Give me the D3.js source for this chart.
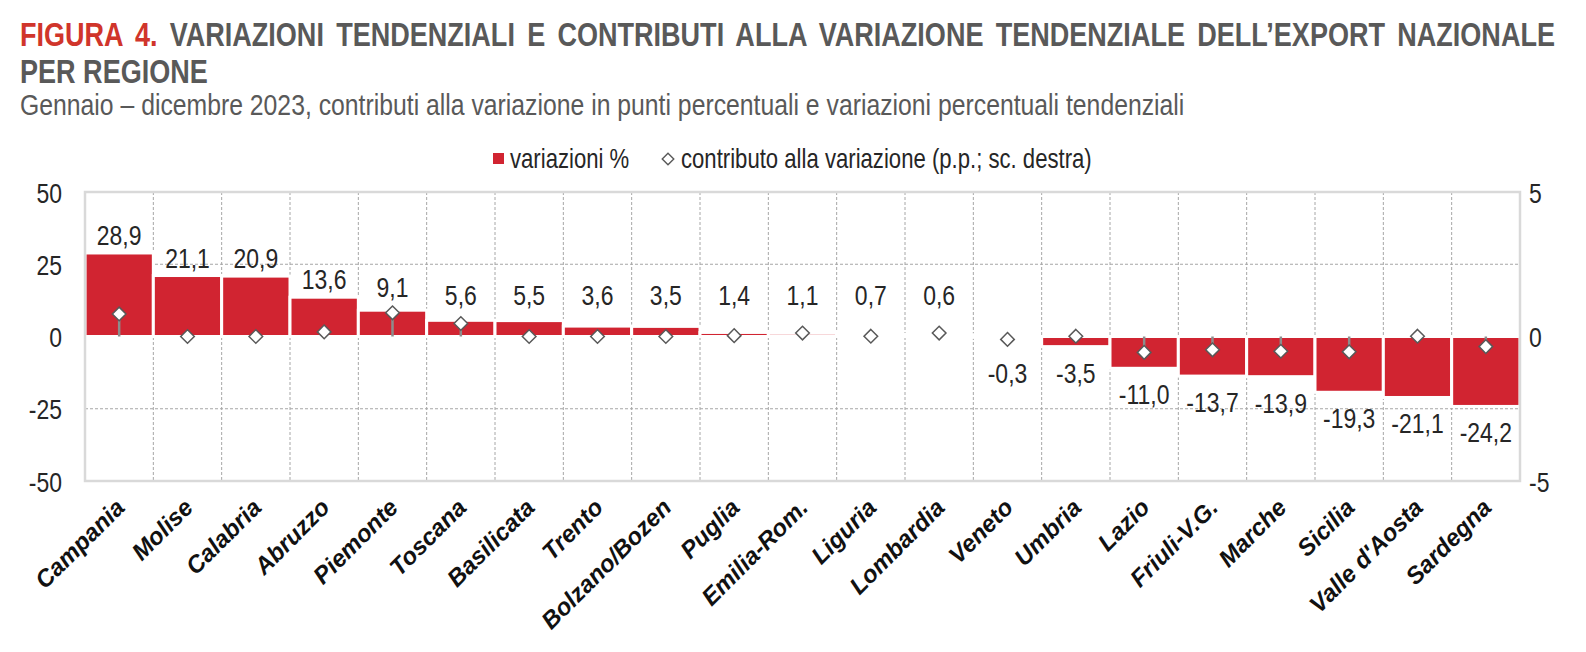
<!DOCTYPE html>
<html>
<head>
<meta charset="utf-8">
<script src="https://cdn.jsdelivr.net/npm/d3@7"></script>
<style>
  html, body { margin: 0; padding: 0; background: #fff; }
  svg { display: block; }
  svg text { font-family: "Liberation Sans", Arial, sans-serif; }
</style>
</head>
<body>
<div id="chart"></div>
<script>
// regions, sorted as in the figure
const regions = ['Campania', 'Molise', 'Calabria', 'Abruzzo', 'Piemonte', 'Toscana', 'Basilicata',
  'Trento', 'Bolzano/Bozen', 'Puglia', 'Emilia-Rom.', 'Liguria', 'Lombardia', 'Veneto', 'Umbria',
  'Lazio', 'Friuli-V.G.', 'Marche', 'Sicilia', "Valle d'Aosta", 'Sardegna']

// variazioni % (left axis)
const variazioni = [28.9, 21.1, 20.9, 13.6, 9.1, 5.6, 5.5, 3.6, 3.5, 1.4, 1.1, 0.7, 0.6, -0.3, -3.5,
  -11.0, -13.7, -13.9, -19.3, -21.1, -24.2]

// contributo alla variazione, p.p. (right axis)
const contributi = [0.78, 0.0, 0.0, 0.16, 0.82, 0.45, 0.0, 0.0, 0.0, 0.03, 0.12, 0.01, 0.12, -0.1, 0.01,
  -0.55, -0.46, -0.51, -0.53, 0.01, -0.35]

const leftTicks = [-50, -25, 0, 25, 50]
const rightTicks = [-5, 0, 5]

const data = regions.map((r, i) => ({ region: r, v: variazioni[i], c: contributi[i] }))

const W = 1586, H = 652
const plot = { left: 85, right: 1520, top: 192, bottom: 481 }
const red = '#d12431', grey = '#595959'
const SX = 0.82 // no Arial Narrow here, so squeeze Liberation Sans
const fmt = v => (v < 0 ? '-' : '') + Math.abs(v).toFixed(1).replace('.', ',')

// move x/y into a transform and squeeze horizontally
function narrow (sel) {
  sel.each(function () {
    const t = d3.select(this)
    const tx = +t.attr('x') || 0, ty = +t.attr('y') || 0
    t.attr('x', 0).attr('y', 0).attr('transform', `translate(${tx},${ty}) scale(${SX},1)`)
  })
}

const svg = d3.select('#chart').append('svg')
  .attr('width', W)
  .attr('height', H)

// titles
const t1 = svg.append('text')
  .attr('x', 20).attr('y', 46)
  .attr('font-size', 33).attr('font-weight', 'bold')
t1.append('tspan').attr('fill', '#d0352b').text('FIGURA 4.')
t1.append('tspan').attr('fill', grey)
  .text(' VARIAZIONI TENDENZIALI E CONTRIBUTI ALLA VARIAZIONE TENDENZIALE DELL\u2019EXPORT NAZIONALE')
// justify first line like the original
const natural = t1.node().getComputedTextLength()
const spaces = (t1.text().match(/ /g) || []).length
t1.attr('word-spacing', (1536 / SX - natural) / spaces)
narrow(t1)

svg.append('text')
  .attr('x', 20).attr('y', 83)
  .attr('font-size', 33).attr('font-weight', 'bold')
  .attr('fill', grey)
  .text('PER REGIONE')
  .call(narrow)

svg.append('text')
  .attr('x', 20).attr('y', 115)
  .attr('font-size', 30.2)
  .attr('fill', grey)
  .text('Gennaio \u2013 dicembre 2023, contributi alla variazione in punti percentuali e variazioni percentuali tendenziali')
  .call(narrow)

// legend
const lg = svg.append('g').attr('font-size', 27).attr('fill', '#262626')
lg.append('rect').attr('x', 493).attr('y', 153).attr('width', 11).attr('height', 11).attr('fill', red)
lg.append('text').attr('x', 510).attr('y', 168).text('variazioni %').call(narrow)
lg.append('path')
  .attr('d', d3.symbol(d3.symbolDiamond2, 85)())
  .attr('transform', 'translate(668,159)')
  .attr('fill', '#fff').attr('stroke', grey).attr('stroke-width', 1.4)
lg.append('text').attr('x', 681).attr('y', 168).text('contributo alla variazione (p.p.; sc. destra)').call(narrow)

// scales
const x = d3.scaleBand().domain(regions).range([plot.left, plot.right]).padding(0)
const y = d3.scaleLinear().domain([-50, 50]).range([plot.bottom, plot.top])
const y2 = d3.scaleLinear().domain([-5, 5]).range([plot.bottom, plot.top])

// grid
const grid = svg.append('g')
  .attr('stroke', '#a6a6a6').attr('stroke-width', 1).attr('stroke-dasharray', '3,2')
grid.selectAll('line.h')
  .data(leftTicks.filter(t => t !== 0 && Math.abs(t) !== 50))
  .join('line')
  .attr('x1', plot.left).attr('x2', plot.right)
  .attr('y1', d => y(d)).attr('y2', d => y(d))
grid.selectAll('line.v')
  .data(regions.slice(1))
  .join('line')
  .attr('x1', d => x(d)).attr('x2', d => x(d))
  .attr('y1', plot.top).attr('y2', plot.bottom)

// bars
svg.append('g')
  .selectAll('rect')
  .data(data)
  .join('rect')
  .attr('x', d => x(d.region))
  .attr('width', x.bandwidth())
  .attr('y', d => y(Math.max(d.v, 0)))
  .attr('height', d => Math.abs(y(d.v) - y(0)))
  .attr('fill', red)
  .attr('stroke', '#fff')
  .attr('stroke-width', 3)

// plot frame
svg.append('rect')
  .attr('x', plot.left).attr('y', plot.top)
  .attr('width', plot.right - plot.left).attr('height', plot.bottom - plot.top)
  .attr('fill', 'none').attr('stroke', '#d9d9d9').attr('stroke-width', 2.5)

// drop lines + diamonds (right axis)
const cx = d => x(d.region) + x.bandwidth() / 2
svg.append('g')
  .selectAll('line')
  .data(data)
  .join('line')
  .attr('x1', cx).attr('x2', cx)
  .attr('y1', y2(0)).attr('y2', d => y2(d.c))
  .attr('stroke', '#8c8c8c').attr('stroke-width', 2.5)

svg.append('g')
  .selectAll('path')
  .data(data)
  .join('path')
  .attr('d', d3.symbol(d3.symbolDiamond2, 118)())
  .attr('transform', d => `translate(${cx(d)},${y2(d.c)})`)
  .attr('fill', '#fff').attr('stroke', grey).attr('stroke-width', 1.5)

// value labels
const half = 8
svg.append('g')
  .attr('font-size', 28).attr('fill', '#262626').attr('text-anchor', 'middle')
  .selectAll('text')
  .data(data)
  .join('text')
  .attr('x', cx)
  .attr('y', d => {
    if (d.v >= 0) {
      const top = Math.min(y(d.v), y2(d.c) - half, y(0) - 24)
      return top - 8
    }
    const bottom = Math.max(y(d.v), y2(d.c) + half)
    return bottom + 36
  })
  .text(d => fmt(d.v))
  .call(narrow)

// left axis
const tickFmt = d => d3.format('d')(d).replace('\u2212', '-')
const axL = svg.append('g')
  .attr('transform', `translate(${plot.left - 23},0)`)
  .call(d3.axisLeft(y).tickValues(leftTicks).tickSize(0).tickPadding(0).tickFormat(tickFmt))
axL.attr('font-family', null).attr('font-size', null)
axL.select('.domain').remove()
axL.selectAll('text').attr('font-size', 28).attr('fill', '#262626').attr('dy', '0.36em').call(narrow)

// right axis
const axR = svg.append('g')
  .attr('transform', `translate(${plot.right + 9},0)`)
  .call(d3.axisRight(y2).tickValues(rightTicks).tickSize(0).tickPadding(0).tickFormat(tickFmt))
axR.attr('font-family', null).attr('font-size', null)
axR.select('.domain').remove()
axR.selectAll('text').attr('font-size', 28).attr('fill', '#262626').attr('dy', '0.36em').call(narrow)

// category labels
svg.append('g')
  .attr('font-size', 24).attr('font-weight', 'bold').attr('font-style', 'italic')
  .attr('fill', '#111').attr('text-anchor', 'end')
  .selectAll('text')
  .data(data)
  .join('text')
  .attr('transform', d => `translate(${cx(d) + 7},${plot.bottom + 28}) rotate(-45)`)
  .text(d => d.region)
</script>
</body>
</html>
